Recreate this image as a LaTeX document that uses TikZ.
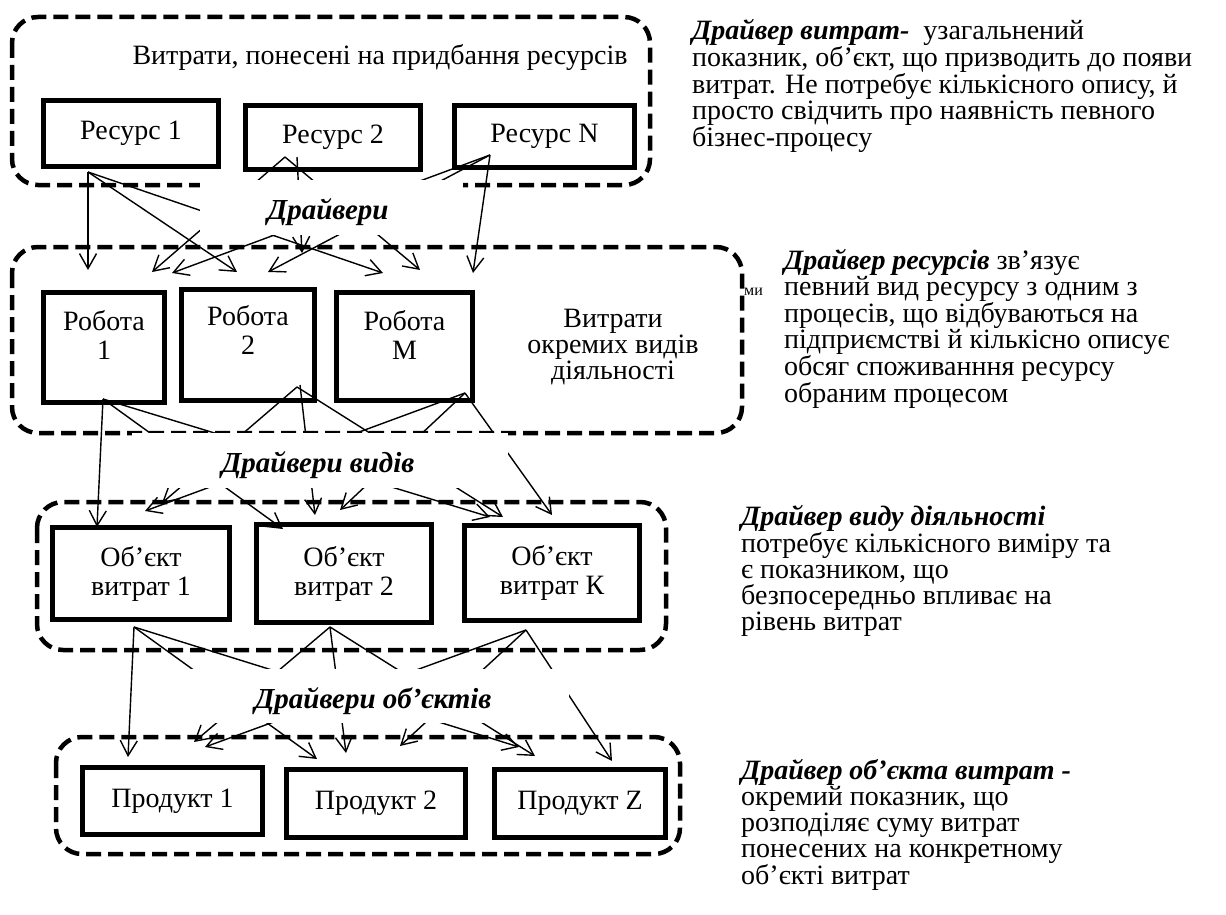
\documentclass[tikz,border=0pt]{standalone}
\usepackage{fontspec}
\setmainfont{Liberation Serif}
\usetikzlibrary{arrows.meta}
\begin{document}
\begin{tikzpicture}[x=1pt,y=-1pt,
  dbox/.style={line width=4.5pt, dash pattern=on 15pt off 7pt, rounded corners=26pt},
  rbox/.style={draw, line width=5pt, inner sep=0pt, font=\fontsize{28}{29}\selectfont, align=center},
  boxtxt/.style={font=\fontsize{28}{29}\selectfont, align=center, inner sep=0pt},
  capt/.style={font=\fontsize{28}{26}\selectfont, align=center, inner sep=0pt},
  conn/.style={line width=1.4pt, -{Straight Barb[length=15pt,width=17pt]}},
  drv/.style={font=\fontsize{29}{30}\selectfont\bfseries\itshape, inner sep=0pt, anchor=base},
  note/.style={font=\fontsize{28}{26}\selectfont, align=left, anchor=north west, inner sep=0pt},
  cover/.style={fill=white}
]
\useasboundingbox (0,0) rectangle (1226,915);

% outer dashed groups
\draw[dbox] (12,17) rectangle (650,185);
\draw[dbox] (12,247) rectangle (742,433);
\draw[dbox] (37,502) rectangle (666,650);
\draw[dbox] (56,737) rectangle (680,854);

% captions of groups
\node[capt] (cap1) at (380,58) {Витрати, понесені на придбання ресурсів};
\node[capt] (cap2) at (613,347) {Витрати\\окремих видів\\діяльності};
\node[font=\fontsize{16}{16}\selectfont, anchor=west, inner sep=0pt] (frag) at (744,292) {ми};

% layer 1 boxes
\node[rbox, minimum width=175pt, minimum height=66pt] (res1) at (131,133.5) {Ресурс 1};
\node[rbox, minimum width=175pt, minimum height=64pt] (res2) at (333,137.5) {Ресурс 2};
\node[rbox, minimum width=180pt, minimum height=62pt] (resN) at (544.5,136.5) {Ресурс N};

% layer 2 boxes
\node[rbox, minimum width=121pt, minimum height=110pt] (rob1) at (104,347.5) {};
\node[rbox, minimum width=133pt, minimum height=111pt] (rob2) at (248,345) {};
\node[rbox, minimum width=136pt, minimum height=108pt] (robM) at (404.5,346.5) {};
\node[boxtxt] (rob1t) at (104,335) {Робота\\1};
\node[boxtxt] (rob2t) at (248,330) {Робота\\2};
\node[boxtxt] (robMt) at (404.5,335) {Робота\\M};

% layer 3 boxes
\node[rbox, minimum width=177pt, minimum height=92pt] (obj1) at (141,573.5) {Об’єкт\\витрат 1};
\node[rbox, minimum width=175pt, minimum height=98pt] (obj2) at (344,573.5) {Об’єкт\\витрат 2};
\node[rbox, minimum width=175pt, minimum height=95pt] (objK) at (552,573) {Об’єкт\\витрат К};

% layer 4 boxes
\node[rbox, minimum width=180pt, minimum height=67pt] (pr1) at (172.5,801) {Продукт 1};
\node[rbox, minimum width=179pt, minimum height=68pt] (pr2) at (376,803.5) {Продукт 2};
\node[rbox, minimum width=171pt, minimum height=68pt] (prZ) at (580,803.5) {Продукт Z};

% connector end points, layer 1 -> 2
\coordinate (a1) at (88,172);
\coordinate (a2) at (285,157);
\coordinate (a2v) at (297,157);
\coordinate (aN) at (490,155);
\coordinate (t11) at (88,270);
\coordinate (t12) at (237,272);
\coordinate (t13) at (383,273);
\coordinate (t14) at (152,272);
\coordinate (t15) at (420,270);
\coordinate (t16) at (302,253);
\coordinate (t17) at (172,273);
\coordinate (t18) at (268,272);
\coordinate (t19) at (473,273);
% layer 2 -> 3
\coordinate (b1) at (103,399);
\coordinate (b2) at (297,387);
\coordinate (b2v) at (300,385);
\coordinate (bM) at (465,393);
\coordinate (t21) at (97,527);
\coordinate (t22) at (283,529);
\coordinate (t23) at (490,517);
\coordinate (t24) at (162,503);
\coordinate (t25) at (503,517);
\coordinate (t26) at (315,515);
\coordinate (t27) at (145,511);
\coordinate (t28) at (340,510);
\coordinate (t29) at (552,515);
% layer 3 -> 4
\coordinate (c1) at (134,627);
\coordinate (c2) at (330,627);
\coordinate (cK) at (526,630);
\coordinate (t31) at (128,757);
\coordinate (t32) at (317,759);
\coordinate (t33) at (519,747);
\coordinate (t34) at (194,742);
\coordinate (t35) at (346,753);
\coordinate (t36) at (535,756);
\coordinate (t37) at (205,747);
\coordinate (t38) at (400,746);
\coordinate (t39) at (612,761);

% connectors
\draw[conn] (a1) -- (t11);
\draw[conn] (a1) -- (t12);
\draw[conn] (a1) -- (t13);
\draw[conn] (a2) -- (t14);
\draw[conn] (a2) -- (t15);
\draw[conn] (a2v) -- (t16);
\draw[conn] (aN) -- (t17);
\draw[conn] (aN) -- (t18);
\draw[conn] (aN) -- (t19);

\draw[conn] (b1) -- (t21);
\draw[conn] (b1) -- (t22);
\draw[conn] (b1) -- (t23);
\draw[conn] (b2) -- (t24);
\draw[conn] (b2) -- (t25);
\draw[conn] (b2v) -- (t26);
\draw[conn] (bM) -- (t27);
\draw[conn] (bM) -- (t28);
\draw[conn] (bM) -- (t29);

\draw[conn] (c1) -- (t31);
\draw[conn] (c1) -- (t32);
\draw[conn] (c1) -- (t33);
\draw[conn] (c2) -- (t34);
\draw[conn] (c2) -- (t35);
\draw[conn] (c2) -- (t36);
\draw[conn] (cK) -- (t37);
\draw[conn] (cK) -- (t38);
\draw[conn] (cK) -- (t39);

% white label areas covering the middle of the connectors
\fill[cover] (200,180) rectangle (463,235);
\fill[cover] (132,432.5) rectangle (508,488);
\fill[cover] (150,669) rectangle (569,723);

\node[drv] (drv1) at (328,219) {Драйвери};
\node[drv] (drv2) at (318,472) {Драйвери видів};
\node[drv] (drv3) at (373,708) {Драйвери об’єктів};

% explanatory notes
\node[note] (n1) at (692,19) {\textbf{\textit{Драйвер витрат-}}\ \ узагальнений\\показник, об’єкт, що призводить до появи\\витрат. Не потребує кількісного опису, й\\просто свідчить про наявність певного\\бізнес-процесу};
\node[note] (n2) at (784,249) {\textbf{\textit{Драйвер ресурсів}} зв’язує\\певний вид ресурсу з одним з\\процесів, що відбуваються на\\підприємстві й кількісно описує\\обсяг споживанння ресурсу\\обраним процесом};
\node[note] (n3) at (741,505) {\textbf{\textit{Драйвер виду діяльності}}\\потребує кількісного виміру та\\є показником, що\\безпосередньо впливає на\\рівень витрат};
\node[note] (n4) at (741,759) {\textbf{\textit{Драйвер об’єкта витрат -}}\\окремий показник, що\\розподіляє суму витрат\\понесених на конкретному\\об’єкті витрат};
\end{tikzpicture}
\end{document}
